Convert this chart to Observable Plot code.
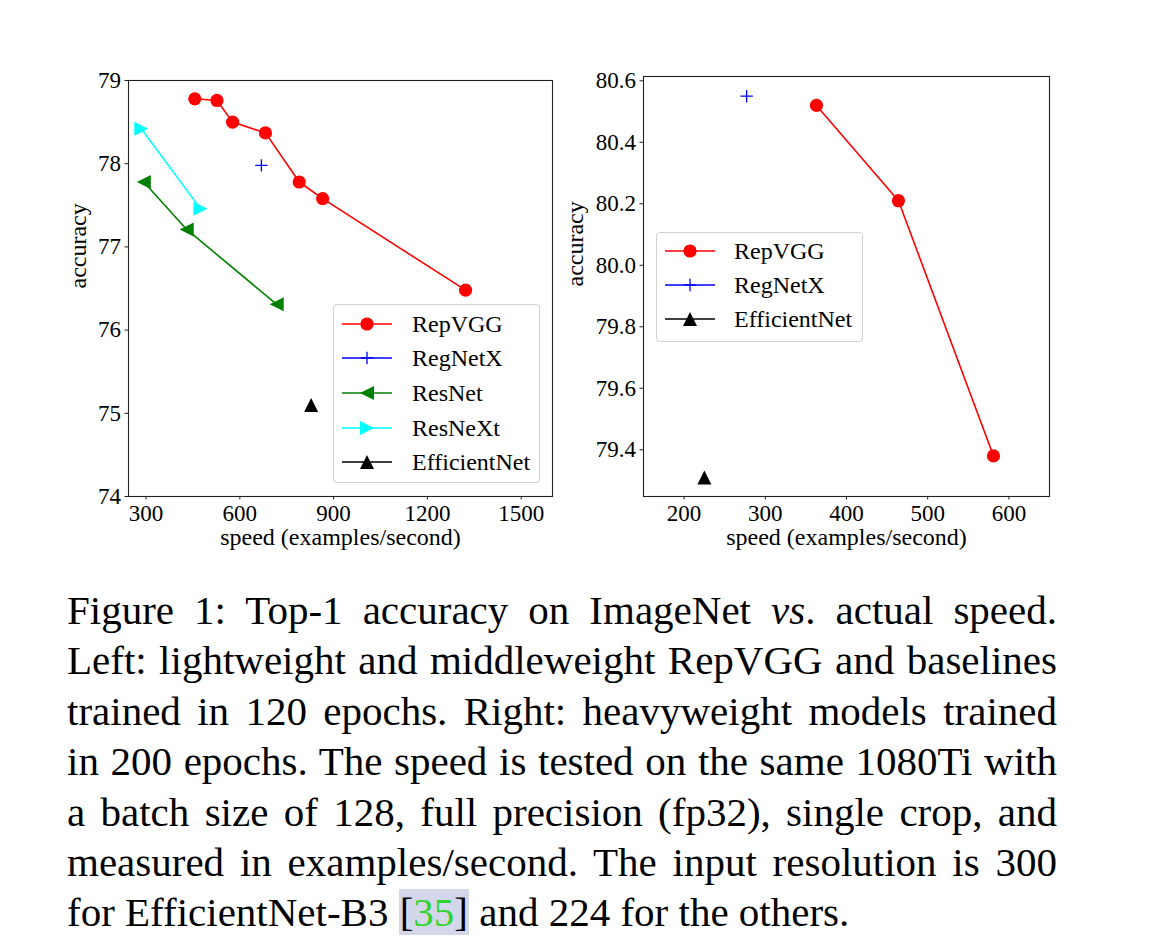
<!DOCTYPE html>
<html><head><meta charset="utf-8">
<script src="https://cdn.jsdelivr.net/npm/d3@7"></script>
<script src="https://cdn.jsdelivr.net/npm/@observablehq/plot@0.6"></script>
<style>
body{margin:0;background:#fff;width:1162px;height:950px;position:relative;overflow:hidden;font-family:"Liberation Serif","Times New Roman",serif;color:#000;}
.panel{position:absolute;top:0}
.legend{position:absolute;background:rgba(255,255,255,0.85);border:1px solid #d0d0d0;border-radius:4px;box-sizing:border-box;}
.legend .row{position:absolute;left:0;height:30px;font-size:24px;white-space:nowrap;}
.legend .row svg{position:absolute;left:0;top:0}
.legend .row span{position:absolute;top:50%;transform:translateY(-52%);line-height:1}
#caption{position:absolute;left:67px;top:585px;width:990px;font-size:41px;line-height:50.4px;}
#caption div{text-align:justify;text-align-last:justify;white-space:nowrap;}
#caption div.last{text-align:left;text-align-last:left;}
.cite{background:#d4d6ea;padding:0 1px;}
.cite b{font-weight:normal;color:#2fd42f;}
</style>
</head><body>
<div id="left" class="panel" style="left:0"></div>
<div id="right" class="panel" style="left:580px"></div>
<div id="caption">
<div>Figure 1: Top-1 accuracy on ImageNet <i>vs</i>. actual speed.</div>
<div>Left: lightweight and middleweight RepVGG and baselines</div>
<div>trained in 120 epochs. Right: heavyweight models trained</div>
<div>in 200 epochs. The speed is tested on the same 1080Ti with</div>
<div>a batch size of 128, full precision (fp32), single crop, and</div>
<div>measured in examples/second. The input resolution is 300</div>
<div class="last">for EfficientNet-B3 <span class="cite">[<b>35</b>]</span> and 224 for the others.</div>
</div>
<script>
// ---------- data ----------
const seriesNames = ["RepVGG", "RegNetX", "ResNet", "ResNeXt", "EfficientNet"];
const seriesColors = ["#ff0000", "#0000ff", "#008000", "#00ffff", "#000000"];

// Left panel: lightweight / middleweight, 120 epochs
const leftRepVGGSpeed = [456, 527, 577, 682, 790, 865, 1322];
const leftRepVGGAcc   = [78.78, 78.76, 78.50, 78.37, 77.78, 77.58, 76.48];
const leftRegNetXSpeed = [669];
const leftRegNetXAcc   = [77.98];
const leftResNetSpeed = [293, 430, 718];
const leftResNetAcc   = [77.78, 77.21, 76.31];
const leftResNeXtSpeed = [285, 474];
const leftResNeXtAcc   = [78.42, 77.46];
const leftEffSpeed = [828];
const leftEffAcc   = [75.10];

// Right panel: heavyweight, 200 epochs
const rightRepVGGSpeed = [363, 464, 581];
const rightRepVGGAcc   = [80.52, 80.21, 79.38];
const rightRegNetXSpeed = [277];
const rightRegNetXAcc   = [80.55];
const rightEffSpeed = [225];
const rightEffAcc   = [79.31];

// axes
const leftXDomain = [244, 1600];
const leftYDomain = [74, 79];
const leftXTicks = [300, 600, 900, 1200, 1500];
const leftYTicks = [74, 75, 76, 77, 78, 79];
const rightXDomain = [150, 650];
const rightYDomain = [79.248, 80.614];
const rightXTicks = [200, 300, 400, 500, 600];
const rightYTicks = [79.4, 79.6, 79.8, 80.0, 80.2, 80.4, 80.6];
const xLabel = "speed (examples/second)";
const yLabel = "accuracy";

// ---------- matplotlib-like marker symbols ----------
const half = size => Math.sqrt(size / Math.PI);
const triUp = {draw(c, s){const a = half(s); c.moveTo(0,-a); c.lineTo(-a,a); c.lineTo(a,a); c.closePath();}};
const triLeft = {draw(c, s){const a = half(s); c.moveTo(-a,0); c.lineTo(a,-a); c.lineTo(a,a); c.closePath();}};
const triRight = {draw(c, s){const a = half(s); c.moveTo(a,0); c.lineTo(-a,-a); c.lineTo(-a,a); c.closePath();}};
const plusSym = {draw(c, s){const a = half(s); c.moveTo(-a,0); c.lineTo(a,0); c.moveTo(0,-a); c.lineTo(0,a);}};

const style = {
  RepVGG:      {color: seriesColors[0], symbol: "circle", r: 6.6, filled: true},
  RegNetX:     {color: seriesColors[1], symbol: plusSym, r: 6.2, filled: false},
  ResNet:      {color: seriesColors[2], symbol: triLeft, r: 7, filled: true},
  ResNeXt:     {color: seriesColors[3], symbol: triRight, r: 7, filled: true},
  EfficientNet:{color: seriesColors[4], symbol: triUp, r: 7, filled: true}
};

const zip = (xs, ys) => xs.map((x, i) => ({speed: x, acc: ys[i]}));
const FONT = "'Liberation Serif', 'Times New Roman', serif";

function seriesMarks(name, pts) {
  const s = style[name];
  const marks = [];
  if (pts.length > 1) marks.push(Plot.line(pts, {x: "speed", y: "acc", stroke: s.color, strokeWidth: 1.6}));
  marks.push(Plot.dot(pts, {
    x: "speed", y: "acc", r: s.r, symbol: s.symbol,
    fill: s.filled ? s.color : "none",
    stroke: s.filled ? "none" : s.color,
    strokeWidth: s.filled ? 0 : 1.3
  }));
  return marks;
}

function panel({width, height, margins, xDomain, yDomain, xTicks, yTicks, yFormat, series, yLabelDx}) {
  return Plot.plot({
    width, height,
    marginLeft: margins[0], marginRight: margins[1], marginTop: margins[2], marginBottom: margins[3],
    style: {fontFamily: FONT, fontSize: "24px", color: "#000", background: "transparent", overflow: "visible"},
    x: {domain: xDomain},
    y: {domain: yDomain},
    marks: [
      Plot.axisX(xTicks, {tickSize: 3.5, tickPadding: 4.5, label: null, stroke: "#222", fontSize: 23, tickFormat: d3.format("d")}),
      Plot.axisY(yTicks, {tickSize: 3.5, tickPadding: 4, label: null, stroke: "#222", fontSize: 23, tickFormat: yFormat}),
      ...series.flatMap(([name, pts]) => seriesMarks(name, pts)),
      Plot.frame({stroke: "#222", strokeWidth: 1.1}),
      Plot.text([xLabel], {frameAnchor: "bottom", dy: 48.5, fontSize: 24}),
      Plot.text([yLabel], {frameAnchor: "left", dx: yLabelDx, rotate: -90, fontSize: 24})
    ]
  });
}

document.getElementById("left").appendChild(panel({
  width: 580, height: 560, margins: [128, 28, 80, 64],
  xDomain: leftXDomain, yDomain: leftYDomain, xTicks: leftXTicks, yTicks: leftYTicks,
  yFormat: d3.format("d"), yLabelDx: -50,
  series: [
    ["RepVGG", zip(leftRepVGGSpeed, leftRepVGGAcc)],
    ["RegNetX", zip(leftRegNetXSpeed, leftRegNetXAcc)],
    ["ResNet", zip(leftResNetSpeed, leftResNetAcc)],
    ["ResNeXt", zip(leftResNeXtSpeed, leftResNeXtAcc)],
    ["EfficientNet", zip(leftEffSpeed, leftEffAcc)]
  ]
}));

document.getElementById("right").appendChild(panel({
  width: 582, height: 560, margins: [63, 113, 76, 64],
  xDomain: rightXDomain, yDomain: rightYDomain, xTicks: rightXTicks, yTicks: rightYTicks,
  yFormat: d3.format(".1f"), yLabelDx: -68,
  series: [
    ["RepVGG", zip(rightRepVGGSpeed, rightRepVGGAcc)],
    ["RegNetX", zip(rightRegNetXSpeed, rightRegNetXAcc)],
    ["EfficientNet", zip(rightEffSpeed, rightEffAcc)]
  ]
}));

// ---------- legends ----------
function legend({left, top, width, height, names, rowTops, textX}) {
  const box = document.createElement("div");
  box.className = "legend";
  Object.assign(box.style, {left: left + "px", top: top + "px", width: width + "px", height: height + "px"});
  names.forEach((name, i) => {
    const s = style[name];
    const row = document.createElement("div");
    row.className = "row";
    row.style.top = (rowTops[i] - 15) + "px";
    row.style.width = width + "px";
    const svg = d3.create("svg").attr("width", 70).attr("height", 30);
    svg.append("line").attr("x1", 8).attr("x2", 58).attr("y1", 15).attr("y2", 15)
      .attr("stroke", s.color).attr("stroke-width", 1.6);
    const sym = s.symbol === "circle" ? d3.symbolCircle : s.symbol;
    svg.append("path").attr("transform", "translate(33,15)")
      .attr("d", d3.symbol(sym, Math.PI * s.r * s.r)())
      .attr("fill", s.filled ? s.color : "none")
      .attr("stroke", s.filled ? "none" : s.color)
      .attr("stroke-width", 1.3);
    row.appendChild(svg.node());
    const t = document.createElement("span");
    t.textContent = name;
    t.style.left = textX + "px";
    row.appendChild(t);
    box.appendChild(row);
  });
  document.body.appendChild(box);
}
legend({left: 333, top: 304, width: 207, height: 179, names: seriesNames,
  rowTops: [19, 53, 88, 123, 157], textX: 78});
legend({left: 656, top: 232, width: 207, height: 110, names: ["RepVGG", "RegNetX", "EfficientNet"],
  rowTops: [18, 52, 86], textX: 77});
</script>
</body></html>
